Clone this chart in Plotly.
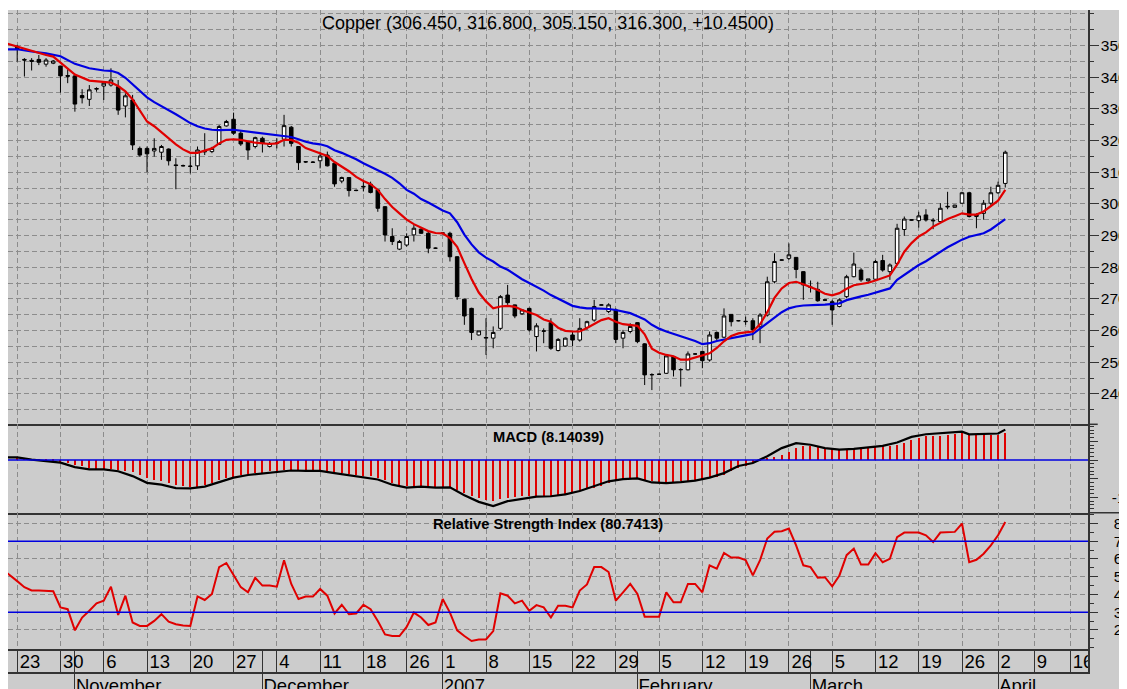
import plotly.graph_objects as go

FONT = "Liberation Sans, Arial, sans-serif"

# ---------------- data (bar index; 6 bars per week in this feed) ----------------
bar = list(range(138))
open_ = [349.6, 345.6, 345.3, 345.6, 344.1, 344.4, 343.5, 340.5, 340.4, 334.2,
         333.0, 336.2, 337.2, 337.5, 337.0, 330.9, 332.8, 317.5, 317.5, 316.7,
         316.3, 317.3, 312.3, 312.1, 311.8, 312.0, 316.4, 316.5, 318.8, 324.6,
         326.7, 322.3, 319.6, 318.1, 320.7, 318.1, 319.1, 320.4, 324.2, 318.1,
         313.2, 313.2, 313.6, 315.4, 312.8, 307.2, 308.3, 304.3, 305.3, 306.2,
         304.4, 299.1, 289.7, 285.7, 287.0, 290.2, 292.0, 290.7, 286.0, 290.7,
         290.7, 283.3, 269.9, 267.0, 258.6, 257.6, 257.6, 260.7, 271.2, 268.1,
         265.3, 267.0, 258.1, 259.9, 262.5, 253.7, 255.1, 258.6, 257.0, 261.0,
         263.3, 268.0, 266.0, 266.5, 257.6, 259.7, 262.5, 255.8, 246.0, 246.2,
         246.5, 251.8, 247.6, 247.6, 252.6, 253.4, 250.7, 259.4, 257.9, 265.1,
         263.1, 262.8, 263.1, 261.2, 264.9, 275.4, 282.2, 282.8, 283.1, 278.6,
         273.6, 273.0, 269.7, 269.1, 267.6, 270.7, 277.0, 279.1, 275.7, 276.2,
         282.1, 278.6, 281.2, 291.9, 294.8, 294.7, 296.5, 294.6, 294.4, 299.0,
         298.9, 300.2, 303.5, 296.0, 297.0, 300.2, 303.5, 306.45]
high = [350.2, 346.0, 346.0, 347.0, 346.0, 345.4, 343.6, 342.5, 340.6, 336.2,
        337.5, 336.8, 338.6, 342.8, 339.1, 334.9, 334.4, 318.1, 318.1, 320.7,
        318.6, 317.5, 314.4, 312.4, 314.9, 318.1, 322.3, 318.0, 324.9, 326.5,
        328.8, 323.3, 319.8, 321.2, 321.2, 319.5, 320.7, 328.1, 324.6, 318.2,
        313.5, 313.5, 316.5, 316.5, 312.9, 308.6, 308.4, 304.5, 307.5, 307.0,
        304.5, 299.3, 292.3, 288.6, 290.7, 293.3, 292.3, 291.2, 286.2, 291.0,
        291.2, 283.5, 270.0, 267.2, 259.9, 263.9, 261.3, 271.2, 274.4, 268.2,
        266.7, 267.2, 262.3, 260.7, 263.9, 257.6, 257.8, 259.7, 263.9, 263.1,
        269.7, 268.3, 268.6, 267.0, 260.2, 262.3, 262.6, 256.0, 246.5, 246.4,
        252.3, 252.0, 248.1, 253.4, 252.8, 253.5, 259.7, 259.7, 267.0, 265.2,
        263.3, 264.4, 263.9, 265.5, 277.0, 284.4, 282.5, 287.5, 283.2, 278.7,
        275.8, 275.4, 269.9, 269.7, 270.2, 277.6, 284.6, 279.7, 276.3, 282.3,
        283.9, 281.2, 293.7, 296.0, 295.1, 297.5, 298.3, 295.5, 300.2, 303.8,
        299.7, 303.8, 303.8, 297.0, 301.2, 305.4, 307.0, 316.8]
low = [344.9, 340.2, 342.1, 343.8, 343.3, 344.1, 335.1, 338.1, 329.1, 331.7,
       330.9, 335.4, 332.8, 337.0, 328.1, 327.3, 317.0, 314.9, 310.0, 314.9,
       313.9, 312.1, 304.6, 311.8, 309.6, 310.7, 315.4, 316.0, 318.6, 324.4,
       321.8, 318.3, 313.9, 317.5, 316.2, 317.8, 317.5, 318.1, 318.1, 310.7,
       312.9, 313.0, 311.2, 311.8, 305.4, 306.5, 302.3, 304.0, 303.9, 303.3,
       297.5, 288.1, 287.0, 285.4, 286.5, 288.1, 290.5, 284.4, 285.8, 290.4,
       281.8, 269.7, 261.8, 257.0, 258.4, 252.3, 254.4, 260.2, 268.1, 263.9,
       264.9, 259.7, 253.4, 256.0, 253.9, 253.4, 254.9, 255.1, 256.5, 260.2,
       262.8, 267.9, 265.5, 256.0, 254.4, 259.1, 256.0, 242.8, 241.2, 246.0,
       246.3, 245.5, 242.3, 247.4, 252.4, 248.1, 250.2, 257.0, 257.6, 261.3,
       262.9, 261.8, 257.0, 256.0, 264.4, 274.9, 282.0, 282.3, 276.5, 269.7,
       272.0, 269.1, 269.5, 261.8, 267.3, 270.2, 276.8, 275.4, 275.4, 276.0,
       278.6, 276.0, 280.7, 289.9, 294.6, 292.5, 294.4, 292.0, 294.1, 298.3,
       298.8, 300.0, 295.7, 292.3, 295.0, 299.6, 303.1, 305.15]
close = [348.8, 345.4, 345.0, 344.7, 345.4, 345.1, 340.4, 340.3, 331.5, 333.5,
         336.0, 336.4, 338.1, 339.1, 329.6, 334.1, 318.6, 315.4, 315.8, 317.5,
         318.1, 313.6, 312.1, 312.0, 311.9, 317.0, 316.6, 317.5, 324.4, 326.0,
         322.3, 318.9, 317.0, 320.9, 319.1, 319.1, 319.2, 324.7, 319.1, 313.0,
         313.3, 313.1, 315.1, 312.0, 306.3, 308.3, 304.2, 304.2, 305.5, 303.6,
         298.6, 290.2, 288.1, 288.1, 289.7, 292.3, 290.7, 286.0, 286.0, 290.8,
         283.3, 270.7, 264.6, 259.4, 259.9, 257.8, 259.4, 270.7, 268.8, 264.6,
         266.5, 260.2, 261.5, 259.8, 254.4, 257.2, 257.6, 257.0, 260.7, 262.8,
         267.6, 268.1, 268.1, 257.2, 259.4, 261.3, 256.5, 246.0, 246.1, 246.2,
         252.0, 247.6, 247.7, 252.6, 252.6, 250.5, 258.6, 257.6, 264.6, 262.8,
         263.1, 262.9, 260.2, 264.9, 275.4, 281.8, 282.3, 283.9, 279.3, 274.4,
         273.7, 269.4, 269.6, 266.5, 269.7, 277.0, 281.0, 276.0, 276.3, 281.8,
         279.1, 280.7, 292.3, 295.2, 295.0, 296.2, 294.9, 294.8, 298.6, 299.2,
         299.6, 303.5, 296.0, 296.6, 300.2, 303.5, 305.85, 316.3]

# fast (red) and slow (blue) moving averages
ma_fast_x = [-2, 0, 2, 4, 5, 6, 7, 8, 10, 12, 13, 14, 15, 16, 18, 19, 20, 21, 22, 23,
             24, 25, 26, 27, 28, 29, 30, 31, 33, 34, 35, 36, 37, 38, 39, 40, 42, 43, 44, 45,
             46, 47, 48, 49, 50, 51, 52, 53, 54, 55, 56, 57, 58, 59, 60, 61, 62, 63, 64, 65,
             66, 67, 68, 69, 70, 71, 72, 73, 74, 75, 76, 77, 78, 79, 80, 81, 82, 83, 84, 85,
             86, 87, 88, 89, 90, 91, 92, 93, 94, 95, 96, 97, 98, 99, 100, 101, 102, 103, 104, 105,
             106, 107, 108, 109, 110, 111, 112, 113, 114, 115, 116, 117, 118, 119, 120, 121, 122, 123, 124, 125,
             126, 127, 128, 129, 130, 131, 132, 133, 134, 135, 136, 137]
ma_fast = [351.0, 349.6, 348.2, 347.0, 346.5, 344.6, 342.8, 340.8, 338.9, 338.5, 338.3, 337.2, 335.5, 333.0, 326.0, 324.5, 322.5, 320.5, 318.8, 317.2,
           316.1, 316.1, 316.8, 317.5, 319.1, 320.2, 320.4, 320.2, 319.3, 319.1, 318.9, 319.1, 320.2, 320.2, 319.3, 317.6, 316.0, 315.1, 313.2, 311.8,
           310.3, 308.5, 307.2, 306.2, 304.4, 301.5, 299.0, 297.0, 295.0, 293.6, 292.4, 291.4, 290.8, 290.7, 289.2, 286.4, 281.3, 276.3, 272.0, 269.2,
           267.0, 267.6, 267.8, 267.5, 266.5, 265.6, 264.9, 263.5, 262.8, 260.9, 259.9, 259.7, 259.7, 260.8, 262.0, 263.3, 263.9, 262.8, 262.0, 261.8,
           261.5, 258.8, 254.3, 253.0, 252.3, 251.9, 250.8, 250.8, 251.5, 252.2, 252.8, 254.5, 256.6, 258.3, 259.1, 259.4, 259.7, 262.0, 265.8, 270.3,
           273.3, 275.0, 275.4, 274.6, 273.8, 272.8, 271.6, 271.1, 271.8, 273.2, 274.3, 274.6, 275.1, 275.8, 276.7, 277.4, 280.8, 284.9, 287.6, 289.7,
           291.0, 292.8, 294.0, 295.2, 296.1, 297.0, 296.6, 296.6, 297.6, 299.2, 301.0, 304.4]
ma_slow_x = [-2, 0, 2, 4, 6, 7, 8, 10, 12, 13, 14, 15, 16, 17, 18, 19, 20, 21, 22, 23,
             24, 25, 26, 27, 28, 30, 31, 32, 33, 34, 35, 36, 37, 38, 39, 40, 41, 42, 43, 44,
             45, 46, 47, 48, 49, 50, 51, 52, 53, 54, 55, 56, 57, 58, 59, 60, 61, 62, 63, 64,
             65, 66, 67, 68, 69, 70, 71, 72, 73, 74, 75, 76, 77, 78, 79, 80, 81, 82, 83, 84,
             85, 86, 87, 88, 89, 90, 91, 92, 93, 94, 95, 96, 97, 98, 99, 100, 101, 102, 103, 104,
             105, 106, 107, 108, 109, 110, 111, 112, 113, 114, 115, 116, 117, 118, 119, 120, 121, 122, 123, 124,
             125, 126, 127, 128, 129, 130, 131, 132, 133, 134, 135, 136, 137]
ma_slow = [348.8, 348.8, 348.1, 347.5, 346.6, 345.3, 344.2, 342.8, 342.1, 342.0, 341.3, 339.8, 337.8, 335.8, 333.6, 332.1, 330.9, 329.7, 328.3, 326.9,
           325.5, 324.5, 323.8, 323.4, 323.3, 323.4, 323.1, 322.8, 322.4, 322.2, 321.9, 321.6, 321.4, 321.1, 320.4, 319.6, 319.1, 318.8, 318.2, 316.9,
           316.1, 315.2, 314.1, 312.8, 311.6, 310.6, 309.5, 308.2, 306.5, 304.4, 303.2, 301.5, 300.4, 299.1, 297.9, 297.0, 294.2, 290.3, 287.2, 284.7,
           283.0, 281.8, 280.2, 279.2, 277.7, 276.2, 275.0, 273.9, 272.6, 271.2, 270.0, 268.8, 267.8, 267.3, 267.0, 267.0, 267.0, 266.8, 266.5, 266.0,
           265.5, 264.5, 263.5, 261.8, 260.6, 259.7, 259.0, 258.3, 257.4, 256.7, 255.7, 256.0, 256.7, 257.2, 257.7, 258.1, 258.5, 258.9, 260.6, 262.5,
           264.1, 265.8, 267.0, 267.6, 267.9, 268.1, 268.1, 268.2, 268.4, 268.6, 269.6, 270.3, 270.8, 271.3, 271.9, 272.6, 273.3, 276.0, 277.6, 279.2,
           280.7, 281.9, 283.4, 284.8, 286.3, 287.5, 288.7, 289.6, 290.1, 290.7, 291.9, 293.6, 295.2]

macd_x = [-2, 0, 2, 4, 6, 8, 10, 12, 14, 16, 18, 20, 22, 24, 26, 28, 30, 32, 34, 36,
          38, 40, 42, 44, 46, 48, 50, 52, 54, 56, 58, 60, 62, 64, 66, 68, 70, 72, 74, 76,
          78, 80, 82, 84, 86, 88, 90, 92, 94, 96, 98, 100, 102, 104, 106, 108, 110, 112, 114, 116,
          118, 120, 122, 124, 126, 128, 130, 131, 132, 134, 136, 137]
macd_line = [0.75, 0.7, 0.1, -0.3, -0.7, -1.9, -2.5, -2.5, -3.0, -4.3, -6.1, -6.6, -7.5, -7.6, -7.1, -5.9, -4.7, -4.0, -3.6, -3.2,
             -2.8, -2.9, -2.9, -3.5, -4.0, -4.5, -5.2, -6.6, -7.4, -7.1, -7.4, -7.3, -9.4, -11.2, -12.3, -11.0, -10.3, -9.8, -9.7, -9.2,
             -8.3, -7.1, -5.7, -5.1, -4.9, -6.0, -6.2, -5.9, -5.5, -4.7, -3.5, -1.6, -0.8, 1.0, 3.2, 4.5, 4.1, 3.2, 2.8, 3.0,
             3.4, 3.8, 4.7, 6.2, 6.9, 7.1, 7.4, 7.6, 6.9, 6.9, 7.1, 8.14]
macd_hist = [0.5, 0.4, 0.1, -0.1, -0.3, -0.5, -0.8, -1.0, -1.3, -1.8,
             -2.3, -2.5, -2.6, -2.6, -2.7, -2.9, -3.4, -4.0, -4.9, -5.5,
             -5.8, -6.3, -6.7, -7.1, -7.4, -7.2, -6.7, -6.1, -5.4, -4.9,
             -4.5, -4.0, -3.8, -3.6, -3.6, -3.1, -2.9, -2.7, -2.7, -2.7,
             -2.9, -2.7, -2.7, -2.9, -3.4, -3.6, -3.8, -4.0, -4.3, -4.3,
             -4.9, -5.4, -6.1, -6.7, -7.1, -7.4, -7.4, -7.4, -7.6, -7.3,
             -7.6, -8.0, -8.8, -9.7, -10.3, -10.7, -11.0, -10.6, -10.3, -10.1,
             -9.8, -9.8, -9.7, -9.7, -9.7, -9.4, -9.1, -8.9, -8.5, -7.9,
             -7.6, -7.1, -6.3, -5.8, -5.4, -5.2, -5.2, -5.4, -5.8, -6.1,
             -6.3, -6.1, -5.8, -5.6, -5.4, -5.4, -4.9, -4.5, -4.0, -3.1,
             -2.2, -1.8, -0.9, -0.45, 0.2, 0.7, 1.3, 2.2, 3.1, 3.6,
             3.8, 3.6, 3.1, 2.9, 2.9, 2.9, 3.1, 3.1, 3.1, 3.6,
             3.8, 3.8, 4.0, 4.5, 5.2, 5.8, 6.3, 6.3, 6.4, 6.7,
             6.9, 7.1, 6.7, 6.7, 6.7, 6.7, 6.7, 7.1]

rsi_x = [-2, -1] + bar
rsi = [54.0, 51.0,
       47.5, 44.1, 42.2, 42.2, 42.2, 41.8, 32.7, 31.7, 19.8, 27.0,
       30.8, 35.0, 36.5, 44.4, 28.5, 39.3, 24.2, 22.3, 22.3, 25.1,
       28.9, 24.7, 23.2, 22.5, 22.3, 38.9, 36.9, 40.3, 55.4, 57.7,
       51.0, 44.1, 41.2, 49.4, 45.0, 45.0, 44.4, 59.2, 45.9, 37.4,
       38.8, 38.8, 43.1, 39.3, 29.3, 34.2, 28.9, 29.3, 34.2, 31.7,
       25.1, 17.5, 16.6, 16.6, 21.7, 29.8, 27.0, 22.8, 24.2, 37.4,
       29.8, 19.8, 16.6, 13.8, 14.7, 14.7, 19.4, 40.6, 39.3, 35.0,
       36.5, 30.8, 34.0, 32.7, 27.0, 33.6, 33.6, 32.7, 42.2, 45.6,
       55.4, 55.4, 52.6, 36.5, 41.2, 45.9, 40.3, 27.5, 27.5, 27.5,
       41.2, 35.6, 35.6, 45.9, 45.9, 41.2, 56.4, 54.5, 63.4, 60.8,
       60.8, 59.3, 50.7, 59.3, 71.5, 75.3, 75.6, 77.1, 67.6, 56.4,
       55.4, 49.4, 49.7, 44.6, 50.7, 62.1, 65.8, 56.8, 56.8, 63.2,
       58.1, 60.0, 72.3, 74.8, 74.8, 74.8, 73.3, 69.5, 74.8, 75.2,
       75.2, 79.9, 58.1, 59.5, 62.9, 67.6, 73.3, 80.74]

week_ticks = [0, 6, 12, 18, 24, 30, 36, 42, 48, 54, 59, 65, 71, 77, 83, 89, 95,
              101, 107, 113, 119, 125, 131, 136, 141, 146]
week_labels = ["23", "30", "6", "13", "20", "27", "4", "11", "18", "26", "1", "8", "15",
               "22", "29", "5", "12", "19", "26", "5", "12", "19", "26", "2", "9", "16"]
month_ticks = [8, 34, 59, 86, 110, 136]
month_labels = ["November", "December", "2007", "February", "March", "April"]

price_ticks = list(range(240, 351, 10))
price_minor = list(range(235, 356, 10)) + [360]
macd_ticks = [-10, -5, 0, 5]
macd_ticktext = ["-10", "\u00a0\u00a0-5", "\u00a0\u00a0\u00a00", "\u00a0\u00a0\u00a05"]
macd_minor = [v for v in range(-14, 10) if v % 5 != 0]
rsi_ticks = list(range(20, 81, 10))
rsi_minor = [10] + list(range(15, 86, 10))
rsi_levels = [30, 70]

title_text = "Copper (306.450, 316.800, 305.150, 316.300, +10.4500)"
macd_title = "MACD (8.14039)"
rsi_title = "Relative Strength Index (80.7413)"

# ---------------- styling ----------------
BG = "#cccccc"
GRID = "#8c8c8c"
DASH = "5px,3px"
AX = "#333333"
RED = "#e00000"
BLUE = "#0000e0"
X_RANGE = [-1.276, 148.47]
TICK_FONT = 15.5

fig = go.Figure()

fig.add_trace(go.Candlestick(
    x=bar, open=open_, high=high, low=low, close=close,
    increasing=dict(fillcolor="white", line=dict(color="black", width=1)),
    decreasing=dict(fillcolor="black", line=dict(color="black", width=1)),
    whiskerwidth=0, xaxis="x", yaxis="y", hoverinfo="skip"))
fig.add_trace(go.Scatter(x=ma_slow_x, y=ma_slow, mode="lines",
                         line=dict(color=BLUE, width=2.2), xaxis="x", yaxis="y", hoverinfo="skip"))
fig.add_trace(go.Scatter(x=ma_fast_x, y=ma_fast, mode="lines",
                         line=dict(color=RED, width=2.2), xaxis="x", yaxis="y", hoverinfo="skip"))

fig.add_trace(go.Bar(x=bar, y=macd_hist, width=0.16, marker=dict(color=RED, line=dict(width=0)),
                     xaxis="x2", yaxis="y2", hoverinfo="skip"))
fig.add_trace(go.Scatter(x=macd_x, y=macd_line, mode="lines",
                         line=dict(color="black", width=2.2), xaxis="x2", yaxis="y2", hoverinfo="skip"))

fig.add_trace(go.Scatter(x=rsi_x, y=rsi, mode="lines",
                         line=dict(color=RED, width=2), xaxis="x3", yaxis="y3", hoverinfo="skip"))

fig.add_trace(go.Scatter(x=[t + 0.35 for t in week_ticks], y=[0.37] * len(week_ticks),
                         mode="text", text=week_labels, textposition="middle right",
                         textfont=dict(family=FONT, size=18.5, color="black"),
                         cliponaxis=True, xaxis="x4", yaxis="y4", hoverinfo="skip"))
fig.add_trace(go.Scatter(x=[m + 0.15 for m in month_ticks], y=[0.12] * len(month_ticks),
                         mode="text", text=month_labels, textposition="middle right",
                         textfont=dict(family=FONT, size=18.5, color="black"),
                         cliponaxis=True, xaxis="x5", yaxis="y5", hoverinfo="skip"))


def xaxis_cfg(anchor, tickvals, gridcolor=GRID, griddash=DASH, showline=True, match=True):
    d = dict(range=X_RANGE, anchor=anchor, tickmode="array", tickvals=tickvals,
             showticklabels=False, ticks="", showgrid=True, gridcolor=gridcolor,
             griddash=griddash, gridwidth=1, showline=showline, linecolor=AX,
             linewidth=1.5, zeroline=False, fixedrange=True, automargin=False)
    if match:
        d["matches"] = "x"
    return d


def yaxis_cfg(domain, anchor, rng, tickvals, minorvals, ticktext=None, showgrid=False,
              minorgrid=False, standoff=0, ticklen=9):
    d = dict(domain=domain, anchor=anchor, side="right", range=rng, tickmode="array",
             tickvals=tickvals, ticks="outside", ticklen=ticklen, tickwidth=1, tickcolor=AX,
             tickfont=dict(family=FONT, size=TICK_FONT, color="black"),
             showgrid=showgrid, gridcolor=GRID, griddash=DASH, gridwidth=1,
             showline=True, linecolor=AX, linewidth=1.5, zeroline=False, fixedrange=True,
             ticklabelstandoff=standoff, automargin=False,
             minor=dict(tickmode="array", tickvals=minorvals, ticks="outside", ticklen=4,
                        tickcolor=AX, tickwidth=1, showgrid=minorgrid, gridcolor=GRID,
                        griddash=DASH, gridwidth=1))
    if ticktext is not None:
        d["ticktext"] = ticktext
    return d


# The page body adds an 8px offset; the figure fills the rest of the window.
H = 679.0  # plot-area height (page y 10 .. 689)
def f(ypx):
    return (689.0 - ypx) / H


x1 = xaxis_cfg("y", week_ticks, match=False)
x1["rangeslider"] = dict(visible=False)

fig.update_layout(
    width=1119, height=681,
    margin=dict(l=0, r=39, t=2, b=0, pad=0, autoexpand=False),
    paper_bgcolor=BG, plot_bgcolor=BG,
    showlegend=False, hovermode=False,
    font=dict(family=FONT, color="black"),
    bargap=0,
    xaxis=x1,
    xaxis2=xaxis_cfg("y2", week_ticks),
    xaxis3=xaxis_cfg("y3", week_ticks),
    xaxis4=xaxis_cfg("y4", week_ticks + month_ticks, gridcolor=AX, griddash="solid"),
    xaxis5=xaxis_cfg("y5", month_ticks, gridcolor=AX, griddash="solid", showline=False),
    yaxis=yaxis_cfg([f(424.3), 1.0], "x", [230.4, 361.2], price_ticks, price_minor,
                    showgrid=True, minorgrid=True, standoff=-1, ticklen=9),
    yaxis2=yaxis_cfg([f(512.7), f(424.3)], "x2", [-14.1, 9.57], macd_ticks, macd_minor,
                     ticktext=macd_ticktext, standoff=11, ticklen=8),
    yaxis3=yaxis_cfg([f(649), f(512.7)], "x3", [9.3, 86.0], rsi_ticks, rsi_minor,
                     showgrid=True, minorgrid=False, standoff=13, ticklen=8),
    yaxis4=dict(domain=[f(672), f(649)], anchor="x4", side="right", range=[0, 1],
                showticklabels=False, ticks="", showgrid=False, zeroline=False,
                showline=True, linecolor=AX, linewidth=1.5, fixedrange=True, automargin=False),
    yaxis5=dict(domain=[0, f(672)], anchor="x5", side="right", range=[0, 1],
                showticklabels=False, ticks="", showgrid=False, zeroline=False,
                showline=False, fixedrange=True, automargin=False),
)

shapes = [
    # white page strip above the chart
    dict(type="rect", xref="paper", yref="paper", x0=-0.05, x1=1.1, y0=1.0, y1=1.05,
         fillcolor="white", line=dict(width=0), layer="below"),
    # MACD zero line
    dict(type="line", xref="x2 domain", yref="y2", x0=0, x1=1, y0=0, y1=0,
         line=dict(color=BLUE, width=1.5), layer="above"),
    # separator extensions into the label column
    dict(type="line", xref="paper", yref="y2 domain", x0=1.0, x1=1.009, y0=1, y1=1,
         line=dict(color=AX, width=1.5), layer="above"),
    dict(type="line", xref="paper", yref="y3 domain", x0=1.0, x1=1.04, y0=1, y1=1,
         line=dict(color=AX, width=1.5), layer="above"),
]
for lvl in rsi_levels:
    shapes.append(dict(type="line", xref="x3 domain", yref="y3", x0=0, x1=1, y0=lvl, y1=lvl,
                       line=dict(color=BLUE, width=1.5), layer="above"))
fig.update_layout(shapes=shapes)

fig.update_layout(annotations=[
    dict(text=title_text, xref="paper", yref="paper", x=0.5, y=f(23), xanchor="center",
         yanchor="middle", showarrow=False, font=dict(family=FONT, size=18, color="black")),
    dict(text="<b>" + macd_title + "</b>", xref="paper", yref="paper", x=0.5, y=f(436.7),
         xanchor="center", yanchor="middle", showarrow=False,
         font=dict(family=FONT, size=14.7, color="black")),
    dict(text="<b>" + rsi_title + "</b>", xref="paper", yref="paper", x=0.5, y=f(524),
         xanchor="center", yanchor="middle", showarrow=False,
         font=dict(family=FONT, size=14.7, color="black")),
])

fig.write_html("out.html")
